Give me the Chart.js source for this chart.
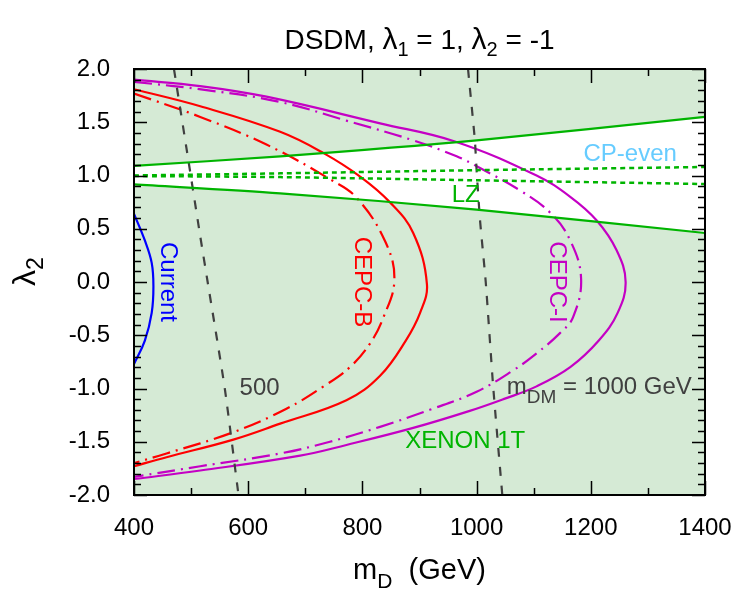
<!DOCTYPE html>
<html><head><meta charset="utf-8">
<script src="https://cdn.jsdelivr.net/npm/chart.js@4.4.1/dist/chart.umd.min.js"></script>
<style>html,body{margin:0;padding:0;background:#fff}</style>
</head><body>
<canvas id="c" width="750" height="600"></canvas>
<script>
// ---------- data (m_D in GeV, lambda_2) ----------
const xTickValues = [400, 600, 800, 1000, 1200, 1400];
const yTickValues = [-2.0, -1.5, -1.0, -0.5, 0.0, 0.5, 1.0, 1.5, 2.0];

const xenonUpperMD = [400, 656, 1000, 1400];
const xenonUpperL2 = [1.09, 1.18, 1.33, 1.55];
const xenonLowerMD = [400, 656, 1000, 1400];
const xenonLowerL2 = [0.917, 0.833, 0.68, 0.46];

const lzUpperMD = [400, 656, 1000, 1400];
const lzUpperL2 = [1.0, 1.02, 1.05, 1.08];
const lzLowerMD = [400, 656, 1000, 1400];
const lzLowerL2 = [0.995, 0.985, 0.955, 0.92];

const mdm500MD = [470, 495, 516, 529, 559, 583];
const mdm500L2 = [2.0, 1.15, 0.43, 0.0, -1.0, -2.0];
const mdm1000MD = [985, 997, 1000, 1006, 1016, 1029, 1045];
const mdm1000L2 = [2.0, 1.33, 1.05, 0.58, 0.0, -0.98, -2.0];

const currentMD = [400, 419, 431, 434, 431, 419, 400];
const currentL2 = [0.64, 0.39, 0.18, -0.04, -0.29, -0.55, -0.77];

const cepcBSolidMD = [400, 516, 656, 732, 796, 848, 889, 913, 901, 876, 831, 772, 656, 574, 457, 400];
const cepcBSolidL2 = [1.81, 1.65, 1.41, 1.21, 0.99, 0.75, 0.46, -0.02, -0.29, -0.55, -0.88, -1.11, -1.33, -1.48, -1.645, -1.73];

const cepcBDashMD = [400, 516, 632, 745, 790, 840, 856, 837, 813, 778, 732, 667, 574, 457, 400];
const cepcBDashL2 = [1.77, 1.55, 1.29, 0.96, 0.79, 0.38, 0.02, -0.33, -0.58, -0.80, -0.98, -1.19, -1.41, -1.61, -1.70];

const cepcISolidMD = [400, 516, 632, 831, 962, 1105, 1164, 1210, 1245, 1261, 1247, 1214, 1164, 1105, 1047, 988, 889, 772, 691, 516, 400];
const cepcISolidL2 = [1.90, 1.84, 1.74, 1.49, 1.32, 1.0, 0.80, 0.58, 0.30, 0.0, -0.29, -0.55, -0.80, -0.98, -1.10, -1.21, -1.37, -1.53, -1.63, -1.77, -1.85];

const cepcIDashMD = [400, 530, 656, 772, 889, 965, 1006, 1076, 1129, 1164, 1183, 1169, 1146, 1105, 1064, 1000, 918, 831, 743, 656, 516, 400];
const cepcIDashL2 = [1.88, 1.80, 1.69, 1.515, 1.33, 1.18, 1.07, 0.86, 0.65, 0.39, 0.03, -0.33, -0.48, -0.67, -0.83, -1.03, -1.20, -1.36, -1.50, -1.61, -1.73, -1.83];

// text labels placed in data coordinates
const labelTexts = ['Current', 'CEPC-B', 'CEPC-I', '500', 'XENON 1T', 'LZ', 'CP-even'];
const labelMD = [459, 799, 1141, 620, 980, 981, 1269];
const labelL2 = [0.0, 0.0, 0.0, -1.0, -1.5, 0.81, 1.20];

// ---------- styling ----------
const FONT = '"Liberation Sans", Arial, Helvetica, sans-serif';
const BG = 'rgb(213,234,213)';
const RED = '#ff0000', PURPLE = '#c400c4', BLUE = '#0000ff', GREEN = '#00b400', GREY = '#404040';
const labelColors = [BLUE, RED, PURPLE, GREY, GREEN, GREEN, '#66ccff'];
const labelRot = [true, true, true, false, false, false, false];

function pts(xs, ys) { return xs.map((x, i) => ({ x: x, y: ys[i] })); }
function ds(xs, ys, color, dash, tension, extra) {
  return Object.assign({
    data: pts(xs, ys), borderColor: color, borderWidth: 2.2, borderDash: dash || [],
    pointRadius: 0, tension: tension, fill: false, backgroundColor: 'transparent'
  }, extra || {});
}

const DASHDOT = [18, 6, 2, 6];
const datasets = [
  ds(xenonUpperMD, xenonUpperL2, GREEN, [], 0.3, { fill: { target: 1, above: '#ffffff', below: '#ffffff' }, backgroundColor: '#ffffff' }),
  ds(xenonLowerMD, xenonLowerL2, GREEN, [], 0.3),
  ds(lzUpperMD, lzUpperL2, GREEN, [5, 4], 0.3, { borderWidth: 2.5 }),
  ds(lzLowerMD, lzLowerL2, GREEN, [5, 4], 0.3, { borderWidth: 2.5 }),
  ds(mdm500MD, mdm500L2, GREY, [9, 10], 0.2),
  ds(mdm1000MD, mdm1000L2, GREY, [9, 10], 0.2),
  ds(currentMD, currentL2, BLUE, [], 0.4),
  ds(cepcBSolidMD, cepcBSolidL2, RED, [], 0.4),
  ds(cepcBDashMD, cepcBDashL2, RED, DASHDOT, 0.4),
  ds(cepcISolidMD, cepcISolidL2, PURPLE, [], 0.4),
  ds(cepcIDashMD, cepcIDashL2, PURPLE, DASHDOT, 0.4)
];

function drawRich(ctx, parts, x, y, align) {
  let total = 0;
  parts.forEach(p => { ctx.font = p.size + 'px ' + FONT; p.w = ctx.measureText(p.t).width; total += p.w; });
  let cx = align === 'center' ? x - total / 2 : x;
  parts.forEach(p => {
    ctx.font = p.size + 'px ' + FONT;
    ctx.fillText(p.t, cx, y + (p.dy || 0));
    cx += p.w;
  });
}

const decor = {
  id: 'decor',
  beforeDraw(chart) {
    const { ctx, chartArea: a } = chart;
    ctx.save(); ctx.fillStyle = BG;
    ctx.fillRect(a.left, a.top, a.right - a.left, a.bottom - a.top);
    ctx.restore();
  },
  afterDatasetsDraw(chart) {
    const { ctx, chartArea: a, scales } = chart;
    const sx = scales.x, sy = scales.y;
    ctx.save();
    ctx.textBaseline = 'middle'; ctx.textAlign = 'center';
    labelTexts.forEach((t, i) => {
      const px = sx.getPixelForValue(labelMD[i]), py = sy.getPixelForValue(labelL2[i]);
      ctx.fillStyle = labelColors[i];
      ctx.font = '24px ' + FONT;
      ctx.save(); ctx.translate(px, py);
      if (labelRot[i]) ctx.rotate(Math.PI / 2);
      ctx.fillText(t, 0, 0);
      ctx.restore();
    });
    ctx.fillStyle = GREY; ctx.textAlign = 'left'; ctx.textBaseline = 'alphabetic';
    drawRich(ctx, [
      { t: 'm', size: 24 }, { t: 'DM', size: 19, dy: 9 }, { t: ' = 1000 GeV', size: 24 }
    ], sx.getPixelForValue(1053), sy.getPixelForValue(-0.977) + 8, 'left');
    ctx.strokeStyle = '#000'; ctx.lineWidth = 2; ctx.setLineDash([]);
    ctx.strokeRect(a.left, a.top, a.right - a.left, a.bottom - a.top);
    ctx.lineWidth = 1.5;
    ctx.beginPath();
    for (let v = sx.min; v <= sx.max + 1e-6; v += 100) {
      const major = Math.abs((v - 400) % 200) < 1e-6;
      const L = major ? 14 : 7, p = Math.round(sx.getPixelForValue(v)) + 0.5;
      ctx.moveTo(p, a.bottom); ctx.lineTo(p, a.bottom - L);
      ctx.moveTo(p, a.top); ctx.lineTo(p, a.top + L);
    }
    for (let k = -20; k <= 20; k++) {
      const v = k / 10, major = k % 5 === 0;
      const L = major ? 13 : 7, p = Math.round(sy.getPixelForValue(v)) + 0.5;
      ctx.moveTo(a.left, p); ctx.lineTo(a.left + L, p);
      ctx.moveTo(a.right, p); ctx.lineTo(a.right - L, p);
    }
    ctx.stroke();
    ctx.restore();
  },
  afterDraw(chart) {
    const { ctx, chartArea: a } = chart;
    const cx = (a.left + a.right) / 2;
    ctx.save(); ctx.fillStyle = '#000'; ctx.textBaseline = 'alphabetic';
    drawRich(ctx, [
      { t: 'DSDM, ', size: 28 }, { t: 'λ', size: 30 }, { t: '1', size: 20, dy: 7 },
      { t: ' = 1, ', size: 28 }, { t: 'λ', size: 30 }, { t: '2', size: 20, dy: 7 }, { t: ' = -1', size: 28 }
    ], cx, 49, 'center');
    drawRich(ctx, [
      { t: 'm', size: 29 }, { t: 'D', size: 21, dy: 9 }, { t: '  (GeV)', size: 29 }
    ], cx, 579, 'center');
    ctx.save(); ctx.translate(35, 286); ctx.rotate(-Math.PI / 2);
    drawRich(ctx, [{ t: 'λ', size: 32 }, { t: '2', size: 23, dy: 8 }], 0, 0, 'left');
    ctx.restore();
    ctx.restore();
  }
};

new Chart(document.getElementById('c'), {
  type: 'line',
  data: { datasets: datasets },
  options: {
    responsive: false, animation: false, devicePixelRatio: 1,
    layout: { padding: { top: 69, right: 45, left: 0, bottom: 0 } },
    plugins: { legend: { display: false }, tooltip: { enabled: false }, filler: { drawTime: 'beforeDatasetsDraw' } },
    scales: {
      x: {
        type: 'linear', min: 400, max: 1400,
        grid: { display: false }, border: { display: false },
        afterBuildTicks: s => { s.ticks = xTickValues.map(v => ({ value: v })); },
        afterFit: s => { s.height = 105; },
        ticks: { color: '#000', padding: 11, font: { size: 24, family: FONT }, maxRotation: 0, autoSkip: false, callback: v => String(v) }
      },
      y: {
        type: 'linear', min: -2, max: 2,
        grid: { display: false }, border: { display: false },
        afterBuildTicks: s => { s.ticks = yTickValues.map(v => ({ value: v })); },
        afterFit: s => { s.width = 134; },
        ticks: { color: '#000', padding: 16, font: { size: 24, family: FONT }, autoSkip: false, callback: v => Number(v).toFixed(1) }
      }
    }
  },
  plugins: [decor]
});
</script>
</body></html>
